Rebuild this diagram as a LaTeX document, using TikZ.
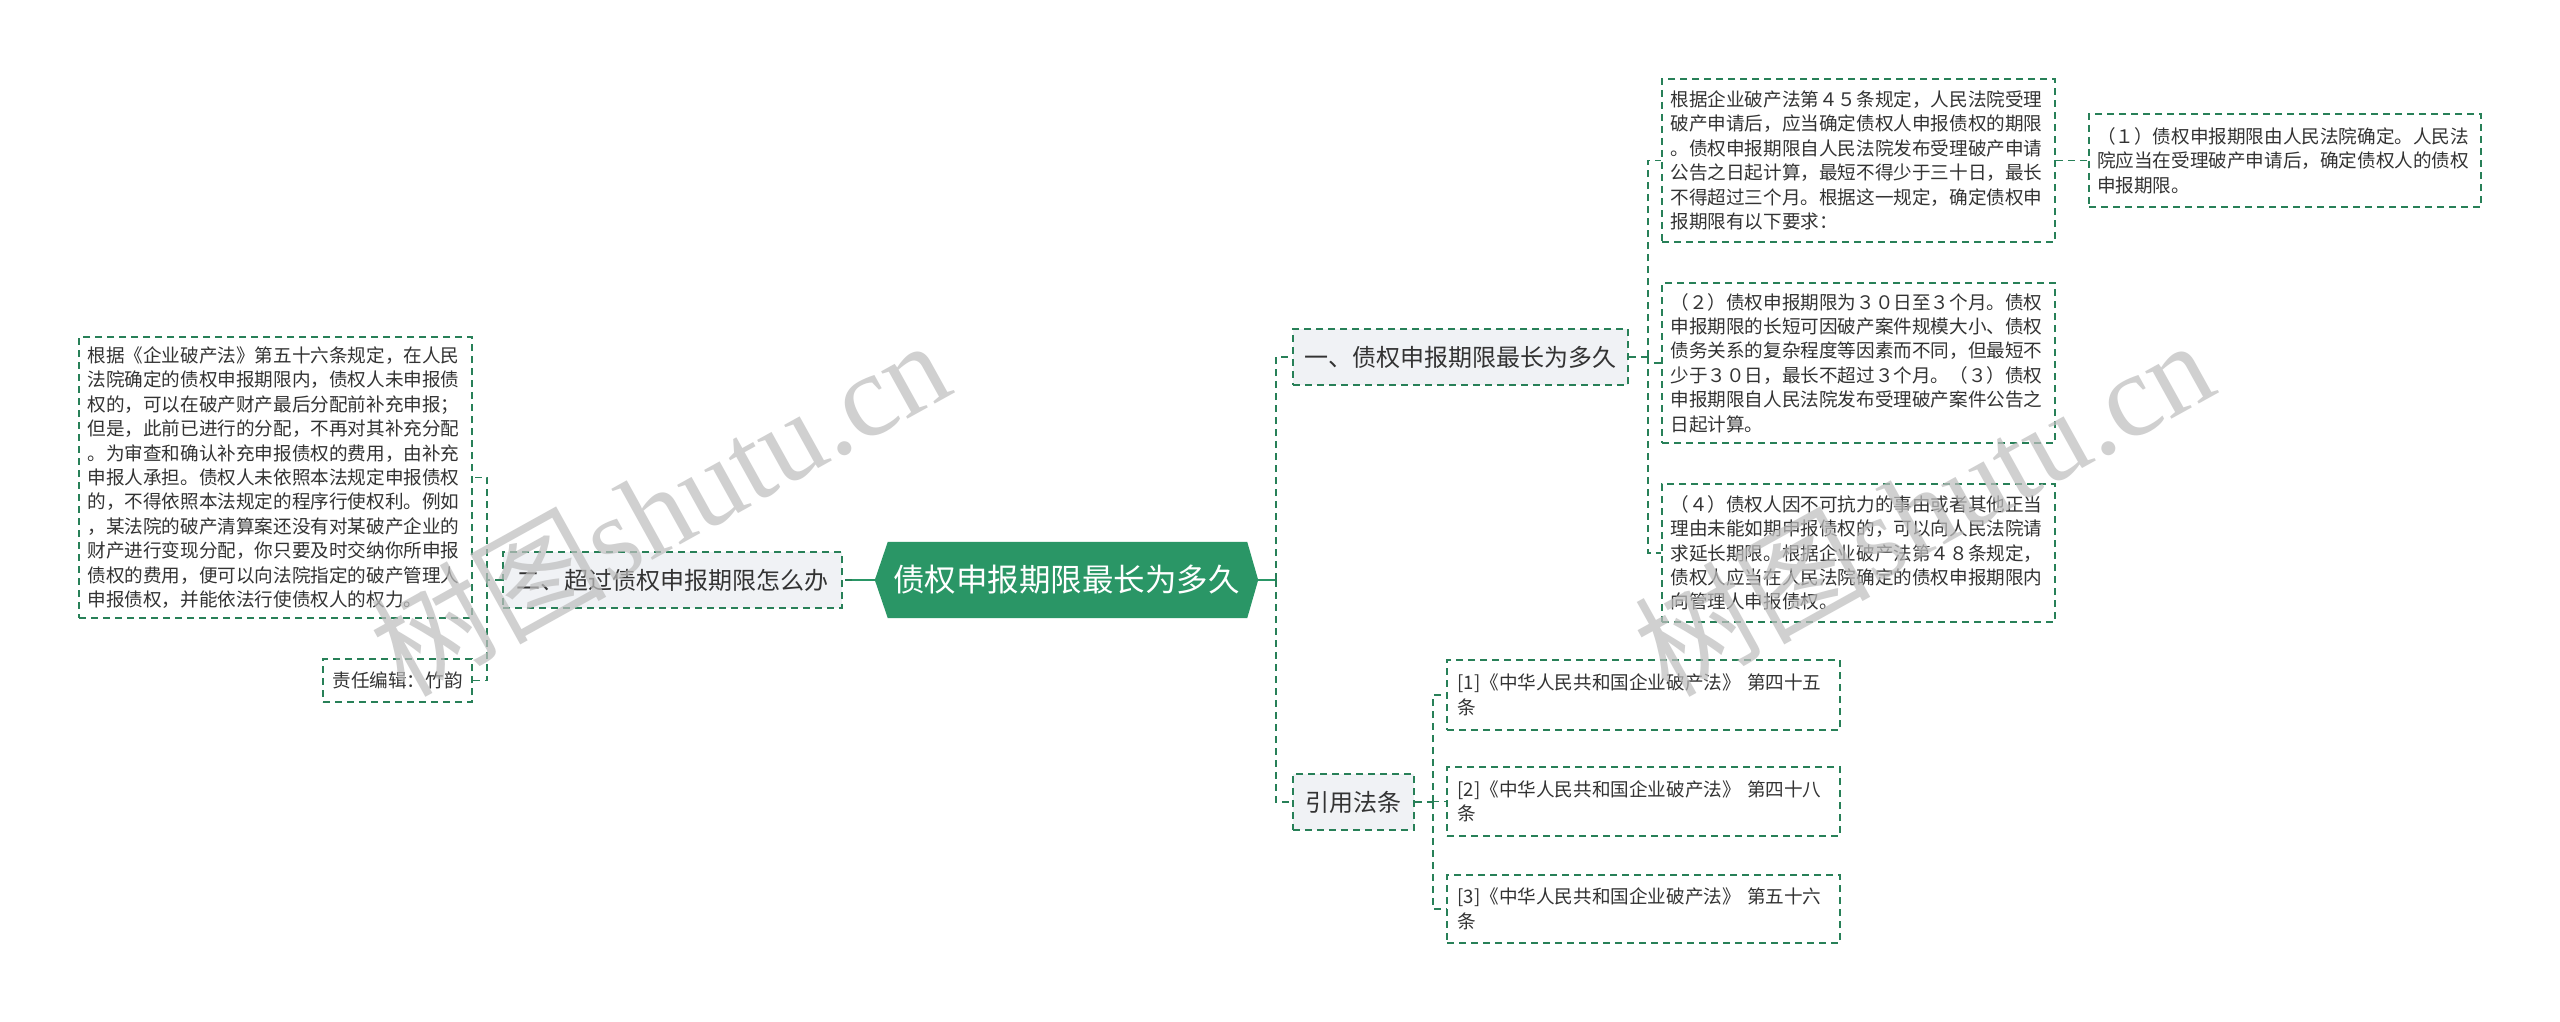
\documentclass[tikz,border=0pt]{standalone}
\usepackage{fontspec}
\setmainfont{Noto Sans CJK SC}
\newfontfamily\wmserif{Liberation Serif}
\definecolor{dgreen}{RGB}{40,128,88}
\definecolor{cgreen}{RGB}{42,150,102}
\definecolor{lfill}{RGB}{240,242,245}
\definecolor{tgray}{RGB}{51,51,51}
\definecolor{wmgray}{RGB}{190,190,190}
\begin{document}
\begin{tikzpicture}[x=1pt,y=-1pt,
  box/.style={draw=dgreen, line width=1.6pt, dash pattern=on 7pt off 5pt, inner sep=0pt, text=tgray, align=left},
  topic/.style={box, fill=lfill, font=\fontsize{24}{28}\selectfont, align=center},
  smallbox/.style={box, fill=white, font=\fontsize{18.6}{24.4}\selectfont},
  conn/.style={draw=dgreen, line width=1.8pt, dash pattern=on 7pt off 5pt},
  solidconn/.style={draw=cgreen, line width=2pt},
  wm/.style={text=wmgray, opacity=0.72, rotate=29, inner sep=0pt}]
\useasboundingbox (0,0) rectangle (2560,1022);
\fill[white] (0,0) rectangle (2560,1022);

% center node
\node[minimum width=383pt, minimum height=76pt, inner sep=0pt] (C) at (1066.5,580) {};
\fill[cgreen] (C.west) -- ([xshift=13pt]C.north west) -- ([xshift=-11pt]C.north east) -- (C.east) -- ([xshift=-11pt]C.south east) -- ([xshift=13pt]C.south west) -- cycle;
\node[text=white, font=\fontsize{31.5}{34}\selectfont, inner sep=0pt] (Ct) at (C.center) {债权申报期限最长为多久};

% main topics
\node[topic, minimum width=339pt, minimum height=56pt] (N2) at (672.5,580) {二、超过债权申报期限怎么办};
\node[topic, minimum width=335pt, minimum height=56pt] (N1) at (1460.5,357) {一、债权申报期限最长为多久};
\node[topic, minimum width=121pt, minimum height=56pt] (R) at (1353.5,802) {引用法条};

% left side
\node[smallbox, text width=376pt, minimum width=393pt, minimum height=281pt] (L) at (275.5,477.5) {根据《企业破产法》第五十六条规定，在人民\\法院确定的债权申报期限内，债权人未申报债\\权的，可以在破产财产最后分配前补充申报；\\但是，此前已进行的分配，不再对其补充分配\\。为审查和确认补充申报债权的费用，由补充\\申报人承担。债权人未依照本法规定申报债权\\的，不得依照本法规定的程序行使权利。例如\\，某法院的破产清算案还没有对某破产企业的\\财产进行变现分配，你只要及时交纳你所申报\\债权的费用，便可以向法院指定的破产管理人\\申报债权，并能依法行使债权人的权力。};
\node[smallbox, minimum width=149pt, minimum height=43pt, align=center] (E) at (397.5,680.5) {责任编辑：竹韵};

% right side, topic one
\node[smallbox, text width=376pt, minimum width=393pt, minimum height=163pt] (T0) at (1858.5,160.5) {根据企业破产法第４５条规定，人民法院受理\\破产申请后，应当确定债权人申报债权的期限\\。债权申报期限自人民法院发布受理破产申请\\公告之日起计算，最短不得少于三十日，最长\\不得超过三个月。根据这一规定，确定债权申\\报期限有以下要求：};
\node[smallbox, text width=376pt, minimum width=392pt, minimum height=93pt] (P1) at (2285,160.5) {（１）债权申报期限由人民法院确定。人民法\\院应当在受理破产申请后，确定债权人的债权\\申报期限。};
\node[smallbox, text width=376pt, minimum width=393pt, minimum height=160pt] (T2) at (1858.5,363) {（２）债权申报期限为３０日至３个月。债权\\申报期限的长短可因破产案件规模大小、债权\\债务关系的复杂程度等因素而不同，但最短不\\少于３０日，最长不超过３个月。（３）债权\\申报期限自人民法院发布受理破产案件公告之\\日起计算。};
\node[smallbox, text width=376pt, minimum width=393pt, minimum height=138pt] (T4) at (1858.5,553) {（４）债权人因不可抗力的事由或者其他正当\\理由未能如期申报债权的，可以向人民法院请\\求延长期限。根据企业破产法第４８条规定，\\债权人应当在人民法院确定的债权申报期限内\\向管理人申报债权。};

% citations
\node[smallbox, text width=372pt, minimum width=393pt, minimum height=70pt] (C1) at (1643.5,695) {[1]《中华人民共和国企业破产法》 第四十五\\条};
\node[smallbox, text width=372pt, minimum width=393pt, minimum height=69pt] (C2) at (1643.5,801.5) {[2]《中华人民共和国企业破产法》 第四十八\\条};
\node[smallbox, text width=372pt, minimum width=393pt, minimum height=68pt] (C3) at (1643.5,909) {[3]《中华人民共和国企业破产法》 第五十六\\条};

% connectors center -> topics
\draw[solidconn] (C.west) -- ++(-23pt,0) coordinate (cl);
\draw[conn] (cl) -- (N2.east);
\draw[solidconn] (C.east) -- ++(18pt,0) coordinate (cr);
\draw[conn] (cr) |- (N1.west);
\draw[conn] (cr) |- (R.west);

% left junction
\draw[conn] (N2.west) -- ++(-15pt,0) coordinate (jl);
\draw[conn] (jl) |- (L.east);
\draw[conn] (jl) |- (E.east);

% topic one junction
\draw[conn] (N1.east) -- ++(19pt,0) coordinate (j1);
\draw[conn] (j1) |- (T0.west);
\draw[conn] (j1) |- (T2.west);
\draw[conn] (j1) |- (T4.west);
\draw[conn] (T0.east) -- (P1.west);

% citations junction
\draw[conn] (R.east) -- ++(18pt,0) coordinate (j2);
\draw[conn] (j2) |- (C1.west);
\draw[conn] (j2) |- (C2.west);
\draw[conn] (j2) |- (C3.west);

% watermarks
\node[wm] (W1) at (659,506) {\fontsize{118}{118}\selectfont 树图\wmserif shutu.cn};
\node[wm] (W2) at (1923,506) {\fontsize{118}{118}\selectfont 树图\wmserif shutu.cn};
\end{tikzpicture}
\end{document}
